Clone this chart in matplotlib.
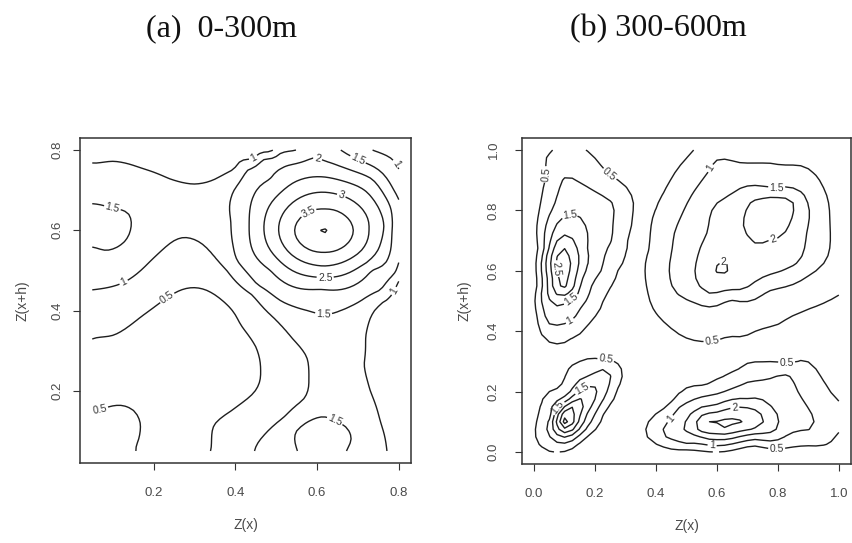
import numpy as np
import matplotlib
matplotlib.use("Agg")
import matplotlib.pyplot as plt

# ---- values ----
titles = ["(a)  0-300m", "(b) 300-600m"]
levels = [0.5, 1.0, 1.5, 2.0, 2.5, 3.0, 3.5, 4.0]

a_ticks = [0.2, 0.4, 0.6, 0.8]
b_ticks = [0.0, 0.2, 0.4, 0.6, 0.8, 1.0]

# panel (a): points (x, y)
a_c05 = [(0.054, 0.331), (0.10, 0.338), (0.17, 0.385), (0.233, 0.432), (0.30, 0.457),
         (0.356, 0.435), (0.413, 0.365), (0.45, 0.31), (0.462, 0.25), (0.445, 0.195),
         (0.39, 0.15), (0.348, 0.114), (0.34, 0.051),
         (0.054, 0.15), (0.09, 0.16), (0.12, 0.164), (0.15, 0.152), (0.167, 0.123),
         (0.164, 0.08), (0.156, 0.051)]
a_c10 = [(0.054, 0.767), (0.10, 0.772), (0.17, 0.755), (0.24, 0.728), (0.298, 0.715),
         (0.35, 0.727), (0.40, 0.755), (0.445, 0.779), (0.486, 0.795),
         (0.054, 0.452), (0.127, 0.47), (0.193, 0.524), (0.25, 0.574), (0.274, 0.582),
         (0.32, 0.565), (0.38, 0.499), (0.44, 0.44), (0.494, 0.382), (0.54, 0.33),
         (0.576, 0.281), (0.58, 0.23), (0.568, 0.18), (0.52, 0.135), (0.48, 0.10),
         (0.455, 0.07), (0.447, 0.051),
         (0.805, 0.485), (0.788, 0.449), (0.76, 0.42), (0.739, 0.398), (0.719, 0.332),
         (0.715, 0.265), (0.731, 0.198), (0.755, 0.123), (0.771, 0.051),
         (0.735, 0.80), (0.775, 0.783), (0.805, 0.74)]
a_c15 = [(0.054, 0.666), (0.099, 0.655), (0.135, 0.645), (0.145, 0.608), (0.132, 0.575),
         (0.105, 0.555), (0.083, 0.55), (0.054, 0.558),
         (0.552, 0.051), (0.548, 0.097), (0.576, 0.122), (0.609, 0.135), (0.645, 0.125),
         (0.675, 0.105), (0.684, 0.08), (0.672, 0.051),
         (0.55, 0.80), (0.51, 0.792), (0.47, 0.778), (0.43, 0.75), (0.397, 0.70),
         (0.389, 0.624), (0.395, 0.56), (0.405, 0.524), (0.454, 0.465), (0.51, 0.425),
         (0.576, 0.40), (0.616, 0.39), (0.658, 0.40), (0.707, 0.424), (0.756, 0.452),
         (0.792, 0.495), (0.805, 0.557),
         (0.658, 0.80), (0.70, 0.776), (0.756, 0.746), (0.788, 0.70), (0.805, 0.658)]
a_c20 = [(0.434, 0.614), (0.785, 0.614), (0.61, 0.775), (0.61, 0.453),
         (0.734, 0.728), (0.486, 0.728), (0.734, 0.50), (0.486, 0.50)]
a_c25 = [(0.47, 0.608), (0.764, 0.608), (0.617, 0.733), (0.617, 0.482),
         (0.721, 0.696), (0.513, 0.696), (0.721, 0.519), (0.513, 0.519)]
a_c30 = [(0.506, 0.603), (0.727, 0.603), (0.617, 0.695), (0.617, 0.511),
         (0.695, 0.668), (0.539, 0.668), (0.695, 0.538), (0.539, 0.538)]
a_c35 = [(0.545, 0.599), (0.689, 0.599), (0.617, 0.653), (0.617, 0.545),
         (0.668, 0.637), (0.566, 0.637), (0.668, 0.561), (0.566, 0.561)]
# peaks / hollows (x, y, value)
a_spots = [(0.617, 0.60, 4.02), (0.05, 0.61, 1.68), (0.61, 0.05, 1.72), (0.30, 0.645, 1.2),
           (0.27, 0.25, 0.3), (0.05, 0.05, 0.62), (0.805, 0.25, 0.8), (0.30, 0.80, 0.85),
           (0.805, 0.61, 1.35), (0.60, 0.80, 1.9), (0.648, 0.28, 1.3), (0.50, 0.05, 1.2),
           (0.05, 0.80, 0.9), (0.805, 0.80, 0.85), (0.805, 0.38, 0.85), (0.40, 0.80, 0.92)]
a_labels = [(0.233, 0.432), (0.07, 0.148), (0.445, 0.779), (0.127, 0.47), (0.788, 0.449),
            (0.788, 0.763), (0.099, 0.655), (0.70, 0.776), (0.616, 0.39), (0.641, 0.12),
            (0.60, 0.775), (0.62, 0.482), (0.662, 0.695), (0.576, 0.65)]

# panel (b)
b_c05 = [(0.524, 1.0), (0.458, 0.918), (0.393, 0.785), (0.377, 0.674), (0.371, 0.541),
         (0.415, 0.442), (0.48, 0.387), (0.584, 0.365), (0.687, 0.381), (0.796, 0.42),
         (0.905, 0.475), (1.0, 0.52),
         (0.061, 1.0), (0.045, 0.918), (0.028, 0.863), (0.014, 0.785), (0.01, 0.70),
         (0.01, 0.55), (0.012, 0.442), (0.056, 0.364), (0.12, 0.375), (0.175, 0.42),
         (0.23, 0.51), (0.273, 0.597), (0.305, 0.708), (0.322, 0.785), (0.322, 0.84),
         (0.295, 0.885), (0.246, 0.918), (0.17, 1.0),
         (0.186, 0.309), (0.11, 0.27), (0.045, 0.198), (0.012, 0.132), (0.005, 0.065),
         (0.023, 0.02), (0.11, 0.005), (0.164, 0.043), (0.23, 0.132), (0.273, 0.209),
         (0.284, 0.276), (0.235, 0.303),
         (0.753, 0.298), (0.665, 0.27), (0.557, 0.22), (0.447, 0.16), (0.382, 0.11),
         (0.371, 0.054), (0.415, 0.021), (0.502, 0.008), (0.796, 0.01), (0.894, 0.021),
         (0.99, 0.06), (0.829, 0.292), (0.878, 0.303), (0.937, 0.254), (0.981, 0.187)]
b_c10 = [(0.578, 0.94), (0.508, 0.835), (0.459, 0.724), (0.443, 0.614), (0.459, 0.536),
         (0.535, 0.492), (0.644, 0.503), (0.774, 0.536), (0.894, 0.58), (0.958, 0.636),
         (0.97, 0.768), (0.948, 0.879), (0.883, 0.946), (0.774, 0.957), (0.676, 0.957),
         (0.589, 0.963),
         (0.088, 0.901), (0.143, 0.896), (0.229, 0.846), (0.262, 0.818), (0.257, 0.708),
         (0.219, 0.597), (0.175, 0.508), (0.132, 0.442), (0.077, 0.42), (0.034, 0.441),
         (0.023, 0.52), (0.034, 0.674), (0.061, 0.808),
         (0.241, 0.276), (0.186, 0.254), (0.11, 0.187), (0.056, 0.12), (0.045, 0.065),
         (0.077, 0.032), (0.132, 0.043), (0.197, 0.12), (0.246, 0.22),
         (0.447, 0.109), (0.47, 0.143), (0.567, 0.187), (0.698, 0.231), (0.828, 0.259),
         (0.856, 0.22), (0.905, 0.137), (0.91, 0.076), (0.828, 0.054), (0.72, 0.043),
         (0.611, 0.021), (0.502, 0.027), (0.426, 0.054)]
b_c15 = [(0.753, 0.879), (0.644, 0.852), (0.589, 0.813), (0.567, 0.724), (0.535, 0.636),
         (0.53, 0.581), (0.578, 0.525), (0.676, 0.536), (0.785, 0.59), (0.862, 0.624),
         (0.894, 0.724), (0.894, 0.835), (0.851, 0.874), (0.796, 0.874),
         (0.088, 0.773), (0.164, 0.757), (0.175, 0.674), (0.153, 0.564), (0.121, 0.508),
         (0.077, 0.486), (0.045, 0.519), (0.039, 0.63), (0.061, 0.729),
         (0.20, 0.22), (0.10, 0.165), (0.077, 0.148), (0.065, 0.115), (0.065, 0.07),
         (0.09, 0.05), (0.13, 0.06), (0.175, 0.13),
         (0.502, 0.109), (0.589, 0.153), (0.698, 0.176), (0.774, 0.154), (0.801, 0.109),
         (0.785, 0.065), (0.665, 0.049), (0.535, 0.054), (0.491, 0.076)]
b_c20 = [(0.72, 0.835), (0.785, 0.846), (0.84, 0.84), (0.85, 0.79), (0.829, 0.735),
         (0.774, 0.702), (0.709, 0.702), (0.687, 0.746), (0.693, 0.79),
         (0.595, 0.608), (0.613, 0.632), (0.635, 0.608), (0.613, 0.585),
         (0.10, 0.718), (0.132, 0.696), (0.143, 0.608), (0.121, 0.53), (0.088, 0.519),
         (0.061, 0.564), (0.056, 0.652), (0.077, 0.702),
         (0.16, 0.18), (0.10, 0.15), (0.075, 0.11), (0.08, 0.075), (0.11, 0.065),
         (0.145, 0.10),
         (0.535, 0.098), (0.60, 0.132), (0.72, 0.143), (0.753, 0.109), (0.72, 0.076),
         (0.611, 0.06), (0.546, 0.071)]
b_c25 = [(0.088, 0.674), (0.11, 0.663), (0.116, 0.586), (0.10, 0.542), (0.077, 0.553),
         (0.072, 0.63),
         (0.12, 0.15), (0.085, 0.115), (0.095, 0.08), (0.125, 0.09), (0.13, 0.12),
         (0.546, 0.087), (0.611, 0.104), (0.676, 0.093), (0.622, 0.076)]
b_spots = [(0.095, 0.61, 2.8), (0.10, 0.105, 3.3), (0.615, 0.09, 2.65), (0.77, 0.77, 2.25),
           (0.613, 0.608, 2.06), (0.68, 0.69, 1.85), (0.35, 0.30, 0.15), (0.50, 0.28, 0.35),
           (0.30, 0.40, 0.3), (0.0, 0.30, 0.3), (0.35, 0.90, 0.3), (0.35, 1.0, 0.3),
           (0.0, 0.95, 0.4), (1.0, 1.0, 0.7), (1.0, 0.35, 0.35), (1.0, 0.0, 0.4),
           (0.30, 0.0, 0.3), (0.12, 0.97, 0.7), (0.0, 0.0, 0.4), (1.0, 0.10, 0.6)]
b_labels = [(0.045, 0.918), (0.246, 0.918), (0.121, 0.768), (0.094, 0.608), (0.116, 0.514),
            (0.116, 0.436), (0.578, 0.94), (0.796, 0.874), (0.785, 0.70), (0.622, 0.63),
            (0.584, 0.365), (0.235, 0.303), (0.154, 0.215), (0.077, 0.148), (0.829, 0.292),
            (0.447, 0.109), (0.66, 0.132), (0.584, 0.021), (0.796, 0.01)]


def collect(lines, spots):
    xs, ys, zs = [], [], []
    for lev, pts in lines:
        for x, y in pts:
            xs.append(x)
            ys.append(y)
            zs.append(lev)
    for x, y, v in spots:
        xs.append(x)
        ys.append(y)
        zs.append(v)
    return np.array(xs), np.array(ys), np.array(zs)


def tps(r):
    with np.errstate(divide="ignore", invalid="ignore"):
        k = r ** 2 * np.log(r)
    return np.nan_to_num(k)


def surface(xs, ys, zs, gx, gy, smooth=5e-5):
    # thin plate spline through the read points
    n = len(xs)
    d = np.hypot(xs[:, None] - xs[None, :], ys[:, None] - ys[None, :])
    p = np.column_stack([np.ones(n), xs, ys])
    m = np.zeros((n + 3, n + 3))
    m[:n, :n] = tps(d) + smooth * np.eye(n)
    m[:n, n:] = p
    m[n:, :n] = p.T
    sol = np.linalg.solve(m, np.concatenate([zs, np.zeros(3)]))
    w, c = sol[:n], sol[n:]
    X, Y = np.meshgrid(gx, gy)
    dg = np.hypot(X[..., None] - xs, Y[..., None] - ys)
    Z = tps(dg) @ w + c[0] + c[1] * X + c[2] * Y
    return X, Y, Z


a_xs, a_ys, a_zs = collect([(0.5, a_c05), (1.0, a_c10), (1.5, a_c15), (2.0, a_c20),
                            (2.5, a_c25), (3.0, a_c30), (3.5, a_c35)], a_spots)
b_xs, b_ys, b_zs = collect([(0.5, b_c05), (1.0, b_c10), (1.5, b_c15), (2.0, b_c20),
                            (2.5, b_c25)], b_spots)

aX, aY, aZ = surface(a_xs, a_ys, a_zs, np.linspace(0.05, 0.80, 76), np.linspace(0.05, 0.80, 76))
bX, bY, bZ = surface(b_xs, b_ys, b_zs, np.linspace(0.0, 1.0, 41), np.linspace(0.0, 1.0, 41))

plt.rcParams["font.family"] = ["Liberation Sans", "DejaVu Sans"]

fig = plt.figure(figsize=(8.53, 5.43), dpi=100)
ax_a = fig.add_axes([80 / 853, 80 / 543, 331 / 853, 325 / 543])
ax_b = fig.add_axes([522 / 853, 79 / 543, 329 / 853, 326 / 543])

ink = "#1e1e1e"
text_col = "#4a4a4a"


def fmt(v):
    return f"{v:g}"


for ax, X, Y, Z, lab, ticks, lim, ylpad in [
        (ax_a, aX, aY, aZ, a_labels, a_ticks, (0.02, 0.83), 7),
        (ax_b, bX, bY, bZ, b_labels, b_ticks, (-0.04, 1.04), 11)]:
    cs = ax.contour(X, Y, Z, levels=levels, colors=ink, linewidths=1.0)
    ax.clabel(cs, levels, inline=True, fontsize=7.5, fmt=fmt, manual=lab,
              inline_spacing=2, colors="#333333")
    ax.set_xlim(lim)
    ax.set_ylim(lim)
    ax.set_xticks(ticks)
    ax.set_yticks(ticks)
    ax.set_xticklabels([f"{t:.1f}" for t in ticks])
    ax.set_yticklabels([f"{t:.1f}" for t in ticks], rotation=90, va="center")
    ax.tick_params(direction="out", length=5, width=0.8, colors="#333333",
                   labelcolor=text_col, labelsize=9.5)
    ax.tick_params(axis="x", pad=12)
    ax.tick_params(axis="y", pad=ylpad)
    for s in ax.spines.values():
        s.set_color("#333333")
        s.set_linewidth(1.1)
    ax.set_xlabel("Z(x)", fontsize=10, color=text_col)
    ax.set_ylabel("Z(x+h)", fontsize=10, color=text_col)
    ax.xaxis.set_label_coords(0.5, -62 / 325)
    ax.xaxis.label.set_va("center")

ax_a.yaxis.set_label_coords(-57 / 331, 0.5)
ax_b.yaxis.set_label_coords(-57 / 329, 0.5)
ax_a.yaxis.label.set_va("center")
ax_b.yaxis.label.set_va("center")

fig.text(222 / 853, 1 - 29 / 543, titles[0], family="Liberation Serif", fontsize=23,
         ha="center", va="center", color="#111111")
fig.text(658 / 853, 1 - 29 / 543, titles[1], family="Liberation Serif", fontsize=23,
         ha="center", va="center", color="#111111")

fig.savefig("out.png", dpi=100)
